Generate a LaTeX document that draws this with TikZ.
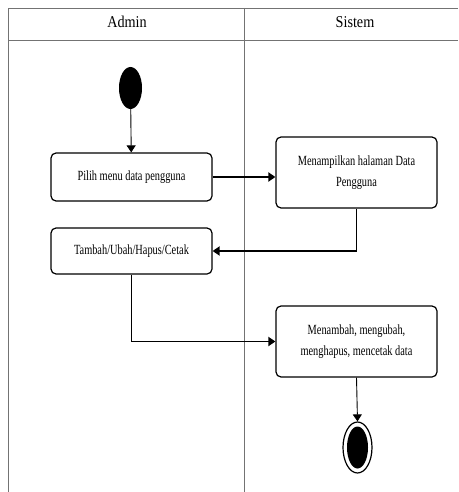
\documentclass[tikz,border=0pt]{standalone}
\usepackage{fontspec}
\setmainfont[FakeStretch=0.74]{Liberation Serif}
\newfontfamily\hdrfont[FakeStretch=0.86]{Liberation Serif}
\usetikzlibrary{shapes.geometric,arrows.meta}
\tikzset{
  lane/.style={draw=black!55, line width=0.8pt},
  actbox/.style={draw=black, line width=1.2pt, rounded corners=5pt, fill=white,
    minimum width=161pt, align=center, inner sep=2pt,
    font=\fontsize{14}{21}\selectfont},
  hdr/.style={font=\hdrfont\fontsize{16.5}{19}\selectfont, inner sep=0pt},
  vline/.style={draw=black, line width=0.9pt},
  hline/.style={draw=black, line width=1.8pt},
  tip/.style={-{Triangle[length=7pt,width=9pt]}}
}
\begin{document}
\begin{tikzpicture}[x=1pt,y=-1pt]
\useasboundingbox (0,0) rectangle (458,492);
% swimlane frame
\coordinate (tl) at (8,8);
\coordinate (tr) at (458,8);
\coordinate (hl) at (8,40);
\coordinate (hr) at (458,40);
\coordinate (bl) at (8,492);
\coordinate (dt) at (244,8);
\coordinate (db) at (244,492);
\draw[lane] (tr) -- (tl) -- (bl);
\draw[lane] (hl) -- (hr);
\draw[lane] (dt) -- (db);
\node[hdr] (hadmin) at (127,22) {Admin};
\node[hdr] (hsistem) at (355,22) {Sistem};
% nodes
\node[ellipse, fill=black, minimum width=23pt, minimum height=42pt, inner sep=0pt] (start) at (130.5,88) {};
\node[actbox, minimum height=48pt] (b1) at (131.5,177) {Pilih menu data pengguna};
\node[actbox, minimum height=71pt] (b2) at (356.5,172.5) {Menampilkan halaman Data\\Pengguna};
\node[actbox, minimum height=46pt] (b3) at (131.5,251) {Tambah/Ubah/Hapus/Cetak};
\node[actbox, minimum height=71pt] (b4) at (356.5,341.5) {Menambah, mengubah,\\menghapus, mencetak data};
\node[ellipse, draw=black, line width=1.2pt, minimum width=29pt, minimum height=51pt, inner sep=0pt] (end) at (357.5,447.5) {};
\node[ellipse, fill=black, minimum width=21pt, minimum height=42pt, inner sep=0pt] (endin) at (end.center) {};
% connectors
\draw[vline, tip] (start) -- (b1);
\draw[hline, tip] (b1.east) -- (b1.east -| b2.west);
\coordinate (c1) at (b2.south |- b3.east);
\draw[vline] (b2.south) -- (c1);
\draw[hline, tip] (c1) -- (b3.east);
\coordinate (c2) at (b3.south |- b4.west);
\draw[vline] (b3.south) -- (c2);
\draw[hline, tip] (c2) -- (b4.west);
\draw[vline, tip] (b4.south) -- (end.north);
\end{tikzpicture}
\end{document}
